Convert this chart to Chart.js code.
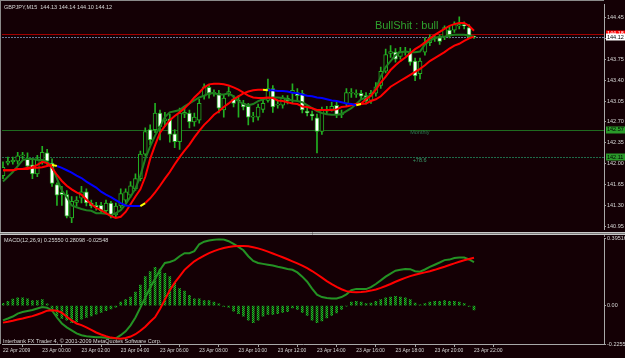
<!DOCTYPE html>
<html>
<head>
<meta charset="utf-8">
<script src="https://cdn.jsdelivr.net/npm/chart.js@4.4.1/dist/chart.umd.min.js"></script>
<style>
    html, body { margin: 0; padding: 0; background: #140005; overflow: hidden; }
    #wrap { position: relative; width: 625px; height: 358px; }
    #priceBox { position: absolute; left: 0; top: 0; width: 625px; height: 234px; }
    #macdBox { position: absolute; left: 0; top: 234px; width: 625px; height: 124px; }
</style>
</head>
<body>
<div id="wrap">
    <div id="priceBox"><canvas id="priceChart"></canvas></div>
    <div id="macdBox"><canvas id="macdChart"></canvas></div>
</div>
<script>
// GBPJPY M15, 22 Apr 22:00 -> 23 Apr 22:00 (one value per bar)
const opens = [
    141.80, 142.01, 142.03, 142.04, 142.13, 142.08, 141.98, 141.83, 142.04, 142.18,
    142.01, 141.65, 141.52, 141.48, 141.09, 141.35, 141.42, 141.53, 141.34, 141.30,
    141.30, 141.21, 141.34, 141.14, 141.29, 141.39, 141.47, 141.58, 141.75, 142.16,
    142.57, 142.57, 142.85, 142.72, 142.75, 142.50, 142.37, 142.83, 142.85, 142.70,
    142.73, 143.13, 143.28, 143.18, 143.18, 142.90, 143.18, 143.08, 143.06, 143.01,
    142.96, 142.78, 142.78, 142.91, 143.06, 143.26, 142.98, 142.98, 143.10, 143.19,
    143.19, 143.18, 142.88, 142.83, 142.77, 142.54, 142.88, 142.91, 142.98, 142.82,
    143.01, 143.18, 143.16, 143.18, 143.14, 143.06, 143.18, 143.31, 143.55, 143.85,
    143.87, 143.80, 143.87, 143.88, 143.72, 143.51, 143.87, 144.03, 144.10, 144.11,
    144.13, 144.24, 144.24, 144.31, 144.33, 144.28, 144.13
];
const highs = [
    142.03, 142.11, 142.11, 142.19, 142.19, 142.18, 142.08, 142.14, 142.29, 142.24,
    142.08, 141.68, 141.62, 141.55, 141.45, 141.45, 141.62, 141.58, 141.39, 141.35,
    141.35, 141.39, 141.37, 141.34, 141.58, 141.58, 141.70, 141.83, 142.21, 142.60,
    142.65, 143.01, 142.90, 142.86, 142.83, 142.57, 142.93, 142.93, 142.90, 142.85,
    143.08, 143.34, 143.33, 143.24, 143.23, 143.16, 143.29, 143.14, 143.14, 143.06,
    143.01, 142.86, 143.00, 143.10, 143.42, 143.31, 143.06, 143.14, 143.14, 143.34,
    143.26, 143.23, 142.95, 142.88, 142.83, 142.95, 142.96, 143.03, 143.03, 142.90,
    143.26, 143.26, 143.24, 143.23, 143.19, 143.23, 143.36, 143.62, 143.92, 143.98,
    143.93, 143.95, 143.95, 143.93, 143.77, 143.77, 144.11, 144.16, 144.16, 144.16,
    144.31, 144.29, 144.38, 144.46, 144.38, 144.33, 144.14
];
const lows = [
    141.75, 141.98, 141.99, 141.99, 142.08, 141.91, 141.75, 141.78, 141.99, 141.98,
    141.62, 141.30, 141.30, 141.09, 141.01, 141.29, 141.34, 141.29, 141.26, 141.22,
    141.17, 141.17, 141.09, 141.11, 141.26, 141.35, 141.44, 141.55, 141.71, 142.13,
    142.32, 142.52, 142.40, 142.63, 142.36, 142.27, 142.24, 142.77, 142.60, 142.63,
    142.68, 143.08, 143.10, 143.13, 142.85, 142.78, 143.13, 142.95, 142.78, 142.90,
    142.65, 142.70, 142.73, 142.86, 143.03, 142.86, 142.93, 142.93, 143.00, 143.01,
    143.06, 142.85, 142.80, 142.73, 142.18, 142.49, 142.83, 142.88, 142.77, 142.77,
    142.96, 143.11, 143.11, 143.08, 143.00, 143.01, 143.13, 143.26, 143.52, 143.78,
    143.70, 143.75, 143.82, 143.65, 143.39, 143.42, 143.82, 143.98, 144.05, 144.00,
    144.08, 144.11, 144.20, 144.26, 144.26, 144.10, 144.10
];
const closes = [
    141.94, 142.04, 142.06, 142.13, 142.14, 141.96, 141.83, 142.08, 142.19, 142.04,
    141.67, 141.47, 141.48, 141.12, 141.37, 141.39, 141.53, 141.34, 141.29, 141.27,
    141.21, 141.34, 141.12, 141.29, 141.50, 141.53, 141.63, 141.75, 142.16, 142.54,
    142.40, 142.85, 142.62, 142.75, 142.49, 142.37, 142.85, 142.86, 142.70, 142.78,
    143.01, 143.29, 143.16, 143.19, 142.93, 143.10, 143.21, 143.01, 143.05, 142.95,
    142.78, 142.80, 142.95, 143.01, 143.26, 142.95, 143.00, 143.10, 143.05, 143.23,
    143.14, 142.90, 142.85, 142.80, 142.54, 142.90, 142.91, 142.96, 142.82, 142.85,
    143.19, 143.19, 143.18, 143.13, 143.05, 143.18, 143.29, 143.55, 143.83, 143.88,
    143.75, 143.88, 143.88, 143.70, 143.47, 143.72, 144.03, 144.11, 144.11, 144.05,
    144.28, 144.16, 144.33, 144.33, 144.31, 144.13, 144.12
];

// moving averages
const fastMa = [
    141.70, 141.78, 141.86, 141.96, 142.06, 142.08, 142.08, 142.06, 142.06, 142.03,
    141.96, 141.75, 141.55, 141.44, 141.30, 141.27, 141.24, 141.22, 141.21, 141.17,
    141.17, 141.16, 141.14, 141.17, 141.22, 141.32, 141.45, 141.58, 141.80, 142.08,
    142.29, 142.47, 142.62, 142.78, 142.86, 142.88, 142.90, 142.96, 143.01, 143.06,
    143.11, 143.14, 143.18, 143.18, 143.16, 143.16, 143.18, 143.13, 143.05, 143.00,
    142.98, 143.00, 143.05, 143.08, 143.10, 143.11, 143.11, 143.10, 143.08, 143.06,
    143.05, 143.03, 142.98, 142.93, 142.88, 142.85, 142.83, 142.82, 142.82, 142.83,
    142.88, 142.93, 143.00, 143.08, 143.11, 143.14, 143.26, 143.46, 143.62, 143.72,
    143.82, 143.87, 143.88, 143.87, 143.87, 143.88, 144.00, 144.06, 144.11, 144.13,
    144.13, 144.15, 144.16, 144.16, 144.16, 144.15, 144.13
];
const midMa = [
    141.89, 141.89, 141.89, 141.91, 141.91, 141.93, 141.94, 141.98, 142.03, 142.01,
    141.93, 141.81, 141.71, 141.63, 141.57, 141.52, 141.48, 141.40, 141.32, 141.26,
    141.22, 141.17, 141.12, 141.09, 141.11, 141.19, 141.32, 141.45, 141.57, 141.78,
    142.08, 142.31, 142.52, 142.63, 142.73, 142.80, 142.86, 142.93, 143.01, 143.11,
    143.19, 143.28, 143.33, 143.34, 143.34, 143.33, 143.31, 143.28, 143.24, 143.19,
    143.14, 143.11, 143.10, 143.10, 143.11, 143.10, 143.06, 143.05, 143.03, 143.01,
    143.00, 142.96, 142.95, 142.93, 142.90, 142.90, 142.90, 142.90, 142.91, 142.95,
    142.96, 142.98, 143.00, 143.01, 143.08, 143.14, 143.24, 143.36, 143.46, 143.57,
    143.65, 143.72, 143.78, 143.85, 143.92, 143.97, 144.03, 144.10, 144.16, 144.21,
    144.26, 144.31, 144.34, 144.36, 144.36, 144.31, 144.23
];
const slowMa = [
    141.89, 141.89, 141.89, 141.91, 141.91, 141.91, 141.93, 141.93, 141.94, 141.96,
    141.98, 141.96, 141.93, 141.89, 141.85, 141.80, 141.76, 141.70, 141.65, 141.60,
    141.53, 141.48, 141.44, 141.39, 141.34, 141.30, 141.29, 141.29, 141.29, 141.34,
    141.42, 141.52, 141.63, 141.75, 141.86, 141.99, 142.11, 142.22, 142.32, 142.44,
    142.55, 142.65, 142.73, 142.82, 142.88, 142.95, 143.01, 143.08, 143.13, 143.18,
    143.21, 143.23, 143.24, 143.24, 143.23, 143.23, 143.22, 143.22, 143.21, 143.19,
    143.18, 143.16, 143.14, 143.13, 143.11, 143.10, 143.08, 143.06, 143.05, 143.03,
    143.01, 143.00, 142.98, 143.00, 143.01, 143.05, 143.08, 143.13, 143.21, 143.29,
    143.34, 143.39, 143.44, 143.49, 143.54, 143.59, 143.65, 143.72, 143.77, 143.82,
    143.87, 143.93, 143.98, 144.01, 144.06, 144.10, 144.13
];

// MACD(12,26,9)
const macdMain = [
    -0.087, -0.076, -0.064, -0.047, -0.038, -0.032, -0.026, -0.017, -0.009, -0.012,
    -0.029, -0.070, -0.105, -0.128, -0.145, -0.163, -0.174, -0.180, -0.183, -0.186,
    -0.186, -0.189, -0.192, -0.192, -0.174, -0.151, -0.116, -0.070, -0.012, 0.047,
    0.105, 0.157, 0.209, 0.250, 0.256, 0.267, 0.290, 0.308, 0.308, 0.320,
    0.360, 0.375, 0.382, 0.386, 0.390, 0.388, 0.378, 0.362, 0.345, 0.325,
    0.290, 0.262, 0.250, 0.245, 0.240, 0.235, 0.228, 0.222, 0.215, 0.210,
    0.195, 0.170, 0.140, 0.100, 0.064, 0.050, 0.045, 0.042, 0.042, 0.050,
    0.066, 0.090, 0.098, 0.098, 0.097, 0.108, 0.127, 0.148, 0.170, 0.188,
    0.205, 0.210, 0.215, 0.214, 0.202, 0.199, 0.212, 0.227, 0.240, 0.253,
    0.267, 0.270, 0.279, 0.282, 0.282, 0.271, 0.2555
];
const macdSignal = [
    -0.100, -0.095, -0.089, -0.082, -0.076, -0.069, -0.062, -0.052, -0.042, -0.030,
    -0.028, -0.030, -0.042, -0.065, -0.087, -0.105, -0.115, -0.128, -0.143, -0.158,
    -0.170, -0.180, -0.188, -0.192, -0.194, -0.190, -0.182, -0.168, -0.148, -0.124,
    -0.095, -0.068, -0.020, 0.035, 0.090, 0.135, 0.172, 0.210, 0.236, 0.260,
    0.278, 0.294, 0.308, 0.320, 0.330, 0.338, 0.344, 0.348, 0.350, 0.350,
    0.348, 0.343, 0.336, 0.327, 0.317, 0.306, 0.295, 0.284, 0.272, 0.260,
    0.248, 0.235, 0.220, 0.203, 0.184, 0.164, 0.144, 0.126, 0.110, 0.096,
    0.085, 0.080, 0.079, 0.080, 0.083, 0.088, 0.095, 0.104, 0.115, 0.127,
    0.140, 0.152, 0.163, 0.173, 0.181, 0.188, 0.195, 0.202, 0.210, 0.219,
    0.228, 0.238, 0.248, 0.257, 0.266, 0.274, 0.2810
];
const macdHist = [
    0.013, 0.025, 0.038, 0.045, 0.045, 0.040, 0.030, 0.030, 0.035, 0.010,
    -0.030, -0.060, -0.075, -0.085, -0.100, -0.095, -0.080, -0.070, -0.060, -0.050,
    -0.040, -0.030, -0.020, -0.010, 0.020, 0.035, 0.050, 0.080, 0.120, 0.170,
    0.200, 0.225, 0.215, 0.190, 0.170, 0.130, 0.100, 0.085, 0.060, 0.040,
    0.040, 0.030, 0.030, 0.020, 0.010, -0.005, -0.010, -0.033, -0.047, -0.062,
    -0.085, -0.100, -0.085, -0.062, -0.052, -0.052, -0.047, -0.040, -0.035, -0.014,
    -0.023, -0.040, -0.058, -0.085, -0.100, -0.090, -0.072, -0.058, -0.043, -0.023,
    -0.004, 0.020, 0.025, 0.020, 0.012, 0.015, 0.025, 0.035, 0.045, 0.050,
    0.055, 0.050, 0.045, 0.035, 0.015, 0.005, 0.012, 0.020, 0.025, 0.025,
    0.030, 0.025, 0.025, 0.020, 0.012, -0.005, -0.0255
];

const timeTickBars = [0, 8, 16, 24, 32, 40, 48, 56, 64, 72, 80, 88, 96];
const timeTickLabels = [
    "22 Apr 2009", "23 Apr 00:00", "23 Apr 02:00", "23 Apr 04:00", "23 Apr 06:00",
    "23 Apr 08:00", "23 Apr 10:00", "23 Apr 12:00", "23 Apr 14:00", "23 Apr 16:00",
    "23 Apr 18:00", "23 Apr 20:00", "23 Apr 22:00"
];
const priceTicks = [140.95, 141.30, 141.65, 142.00, 142.35, 142.70, 143.05, 143.40, 143.75, 144.10, 144.45];
const macdTicks = [-0.22555, 0, 0.39516];

const askLevel = 144.18;
const bidLevel = 144.12;
const monthlyLevel = 142.57;
const fibLevel = 142.11;

const BG = "#140005";
const CANDLE = "#22b022";
const FONT = '"Liberation Sans", Arial, sans-serif';

Chart.defaults.font.family = FONT;
Chart.defaults.color = "#d8d8d8";

const toXY = arr => arr.map((v, i) => ({ x: i, y: v }));

function trendColors(values) {
    const out = [];
    let prev = "up";
    for (let i = 0; i < values.length - 1; i++) {
        const dir = values[i + 1] > values[i] ? "up" : values[i + 1] < values[i] ? "down" : prev;
        out.push(dir !== prev ? "#ffff00" : dir === "up" ? "#ff0000" : "#0000ff");
        prev = dir;
    }
    return out;
}
const slowColors = trendColors(slowMa);

const wickData = opens.map((_, i) => ({ x: i, y: [lows[i], highs[i]] }));
const bodyData = opens.map((o, i) => ({ x: i, y: [Math.min(o, closes[i]), Math.max(o, closes[i])] }));
const bodyFill = opens.map((o, i) => closes[i] < o ? "#ffffff" : BG);

function hLine(ctx, area, y, color, dash) {
    ctx.beginPath();
    ctx.setLineDash(dash);
    ctx.strokeStyle = color;
    ctx.lineWidth = 1;
    ctx.moveTo(area.left, Math.round(y) + 0.5);
    ctx.lineTo(area.right, Math.round(y) + 0.5);
    ctx.stroke();
    ctx.setLineDash([]);
}

function priceBox(ctx, y, fill, textColor, text) {
    ctx.fillStyle = fill;
    ctx.fillRect(606, Math.round(y) - 3.5, 19, 7);
    ctx.fillStyle = textColor;
    ctx.font = "5.5px " + FONT;
    ctx.textBaseline = "middle";
    ctx.textAlign = "left";
    ctx.fillText(text, 607, y);
}

const priceOverlay = {
    id: "priceOverlay",
    beforeDatasetsDraw(chart) {
        const { ctx, chartArea: a, scales: { y } } = chart;
        ctx.save();
        hLine(ctx, a, y.getPixelForValue(monthlyLevel), "#1f6a1f", []);
        hLine(ctx, a, y.getPixelForValue(fibLevel), "#1f6a4a", [2, 1]);
        hLine(ctx, a, y.getPixelForValue(askLevel), "#a00000", []);
        hLine(ctx, a, y.getPixelForValue(bidLevel), "#6a7a9a", [2, 1]);
        ctx.restore();
    },
    afterDraw(chart) {
        const { ctx, scales: { x, y } } = chart;
        ctx.save();
        // frame
        ctx.strokeStyle = "#8a8a8a";
        ctx.lineWidth = 1;
        ctx.beginPath();
        ctx.moveTo(0, 0.5); ctx.lineTo(604, 0.5);
        ctx.moveTo(0.5, 0); ctx.lineTo(0.5, 234);
        ctx.stroke();
        ctx.strokeStyle = "#c8c8c8";
        ctx.beginPath();
        ctx.moveTo(0, 232.5); ctx.lineTo(625, 232.5);
        ctx.stroke();
        ctx.strokeStyle = "#7a7a7a";
        ctx.beginPath();
        ctx.moveTo(0, 233.5); ctx.lineTo(625, 233.5);
        ctx.stroke();

        ctx.textBaseline = "middle";
        ctx.textAlign = "left";
        ctx.fillStyle = "#d8d8d8";
        ctx.font = "5.5px " + FONT;
        ctx.fillText("GBPJPY,M15  144.13 144.14 144.10 144.12", 4, 7);

        ctx.fillStyle = "#2ea02e";
        ctx.font = "11px " + FONT;
        ctx.fillText("BullShit : bull", x.getPixelForValue(75.8), 26);

        ctx.font = "5.5px " + FONT;
        ctx.fillStyle = "#2d7a52";
        ctx.fillText("Monthly", x.getPixelForValue(83), y.getPixelForValue(monthlyLevel) + 3);
        ctx.fillStyle = "#3a9a6a";
        ctx.fillText("+78.6", x.getPixelForValue(83.5), y.getPixelForValue(fibLevel) + 3);

        priceBox(ctx, y.getPixelForValue(askLevel), "#ff0000", "#ffffff", askLevel.toFixed(2));
        priceBox(ctx, y.getPixelForValue(bidLevel), "#ffffff", "#000000", bidLevel.toFixed(2));
        priceBox(ctx, y.getPixelForValue(monthlyLevel), "#2a9a2a", "#000000", monthlyLevel.toFixed(2));
        priceBox(ctx, y.getPixelForValue(fibLevel), "#2a9a2a", "#000000", fibLevel.toFixed(2));
        ctx.restore();
    }
};

const macdOverlay = {
    id: "macdOverlay",
    afterDraw(chart) {
        const { ctx } = chart;
        ctx.save();
        ctx.strokeStyle = "#8a8a8a";
        ctx.lineWidth = 1;
        ctx.beginPath();
        ctx.moveTo(0.5, 0); ctx.lineTo(0.5, 110);
        ctx.moveTo(604.5, 0); ctx.lineTo(604.5, 3);
        ctx.stroke();
        ctx.strokeStyle = "#c8c8c8";
        ctx.beginPath();
        ctx.moveTo(0, 0.5); ctx.lineTo(625, 0.5);
        ctx.stroke();

        ctx.textBaseline = "middle";
        ctx.textAlign = "left";
        ctx.fillStyle = "#d8d8d8";
        ctx.font = "5.5px " + FONT;
        ctx.fillText("MACD(12,26,9) 0.25550 0.28098 -0.02548", 4, 6);
        ctx.fillText("Interbank FX Trader 4, \u00a9 2001-2009 MetaQuotes Software Corp.", 3, 107);
        ctx.restore();
    }
};

const xRange = { type: "linear", min: -0.2, max: 122.5, offset: false };

function rightAxis(min, max, ticks, fmt) {
    return {
        position: "right",
        min: min,
        max: max,
        beginAtZero: false,
        afterFit: s => { s.width = 21; },
        afterBuildTicks: s => { s.ticks = ticks.map(v => ({ value: v })); },
        grid: { drawOnChartArea: false, color: "#a0a0a0", tickLength: 2 },
        border: { color: "#a8a8a8" },
        ticks: { autoSkip: false, padding: 1, font: { size: 5.5 }, color: "#d8d8d8", callback: fmt }
    };
}

new Chart(document.getElementById("priceChart"), {
    type: "bar",
    data: {
        datasets: [
            {
                type: "line", data: toXY(slowMa), borderColor: "#ff0000", borderWidth: 2,
                pointRadius: 0, segment: { borderColor: c => slowColors[c.p0DataIndex] }, order: 1
            },
            { type: "line", data: toXY(midMa), borderColor: "#ff0000", borderWidth: 2, pointRadius: 0, order: 2 },
            { type: "line", data: toXY(fastMa), borderColor: "#1f7f1f", borderWidth: 2, pointRadius: 0, order: 3 },
            {
                data: bodyData, backgroundColor: bodyFill, borderColor: CANDLE, borderWidth: 1,
                borderSkipped: false, grouped: false, barPercentage: 1, categoryPercentage: 1,
                maxBarThickness: 4, minBarLength: 1, order: 4
            },
            {
                data: wickData, backgroundColor: CANDLE, grouped: false, barPercentage: 1,
                categoryPercentage: 1, maxBarThickness: 1, order: 5
            }
        ]
    },
    options: {
        responsive: true,
        maintainAspectRatio: false,
        animation: false,
        events: [],
        layout: { padding: { left: 2, top: 2, right: 0, bottom: 2 } },
        plugins: { legend: { display: false }, tooltip: { enabled: false } },
        scales: {
            x: { ...xRange, display: false },
            y: rightAxis(140.893, 144.672, priceTicks, v => Number(v).toFixed(2))
        }
    },
    plugins: [priceOverlay]
});

// dotted look of the MetaTrader histogram
const dotCanvas = document.createElement("canvas");
dotCanvas.width = 2;
dotCanvas.height = 2;
const dctx = dotCanvas.getContext("2d");
dctx.fillStyle = "#0c4a12";
dctx.fillRect(0, 0, 2, 2);
dctx.fillStyle = "#22c022";
dctx.fillRect(0, 0, 1, 1);
dctx.fillRect(1, 1, 1, 1);
const histPattern = dctx.createPattern(dotCanvas, "repeat");

new Chart(document.getElementById("macdChart"), {
    type: "bar",
    data: {
        datasets: [
            { type: "line", data: toXY(macdSignal), borderColor: "#ff0000", borderWidth: 2, pointRadius: 0, order: 0 },
            { type: "line", data: toXY(macdMain), borderColor: "#249224", borderWidth: 2, pointRadius: 0, order: 1 },
            {
                data: toXY(macdHist), backgroundColor: histPattern, grouped: false, barPercentage: 1,
                categoryPercentage: 1, maxBarThickness: 2, order: 2
            }
        ]
    },
    options: {
        responsive: true,
        maintainAspectRatio: false,
        animation: false,
        events: [],
        layout: { padding: { left: 2, top: 3, right: 0, bottom: 0 } },
        plugins: { legend: { display: false }, tooltip: { enabled: false } },
        scales: {
            x: {
                ...xRange,
                afterFit: s => { s.height = 14; },
                afterBuildTicks: s => { s.ticks = timeTickBars.map(v => ({ value: v })); },
                grid: { drawOnChartArea: false, color: "#a0a0a0", tickLength: 3 },
                border: { color: "#a8a8a8" },
                ticks: {
                    autoSkip: false, maxRotation: 0, align: "start", padding: 1,
                    font: { size: 5 }, color: "#d8d8d8", callback: (v, i) => timeTickLabels[i]
                }
            },
            y: rightAxis(-0.22555, 0.39516, macdTicks, v => v === 0 ? "0.00" : String(v))
        }
    },
    plugins: [macdOverlay]
});
</script>
</body>
</html>
